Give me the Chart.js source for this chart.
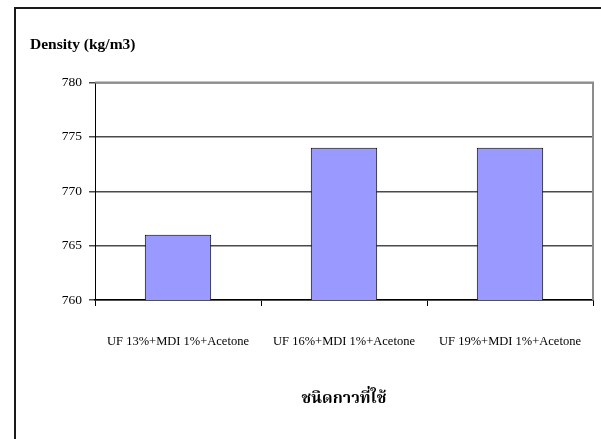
<!doctype html>
<html lang="th">
  <head>
    <meta charset="UTF-8" />
    <title>Density</title>
    <script src="https://cdn.jsdelivr.net/npm/chart.js"></script>
    <style>
      body,
      html {
        margin: 0;
        padding: 0;
        background: #ffffff;
      }
      #wrap {
        width: 601px;
        height: 439px;
      }
    </style>
  </head>
  <body>
    <div id="wrap">
      <canvas id="densityChart" width="601" height="439"></canvas>
    </div>
    <script>
      // Glue types and measured board density
      const categories = [
        "UF 13%+MDI 1%+Acetone",
        "UF 16%+MDI 1%+Acetone",
        "UF 19%+MDI 1%+Acetone",
      ];
      const densityValues = [766, 774, 774];
      const yMin = 760;
      const yMax = 780;
      const yStep = 5;

      const serif = "'Liberation Serif', 'Times New Roman', serif";

      // Outer frame and the grey right edge of the plot area
      const framePlugin = {
        id: "frame",
        beforeDraw(chart) {
          const ctx = chart.ctx;
          ctx.save();
          ctx.strokeStyle = "#1a1a1a";
          ctx.lineWidth = 2;
          ctx.beginPath();
          ctx.moveTo(15, chart.height);
          ctx.lineTo(15, 8);
          ctx.lineTo(chart.width, 8);
          ctx.stroke();
          ctx.restore();
        },
        afterDatasetsDraw(chart) {
          const { ctx, chartArea } = chart;
          ctx.save();
          ctx.strokeStyle = "#8c8c8c";
          ctx.lineWidth = 2;
          ctx.beginPath();
          ctx.moveTo(chartArea.left, chartArea.top);
          ctx.lineTo(chartArea.right, chartArea.top);
          ctx.lineTo(chartArea.right, chartArea.bottom);
          ctx.stroke();
          ctx.restore();
        },
      };

      new Chart(document.getElementById("densityChart"), {
        type: "bar",
        data: {
          labels: categories,
          datasets: [
            {
              label: "Density",
              data: densityValues,
              backgroundColor: "#9999ff",
              borderColor: "#000000",
              borderWidth: 1,
              barPercentage: 0.4,
              categoryPercentage: 1,
            },
          ],
        },
        options: {
          responsive: false,
          animation: false,
          layout: {
            padding: { left: 30, right: 8, top: 0, bottom: 0 },
          },
          plugins: {
            legend: { display: false },
            tooltip: { enabled: false },
            title: {
              display: true,
              text: "Density (kg/m3)",
              align: "start",
              color: "#000000",
              font: { family: serif, size: 15.5, weight: "bold" },
              padding: { top: 36, bottom: 28 },
            },
          },
          scales: {
            x: {
              offset: true,
              grid: {
                display: true,
                offset: true,
                drawOnChartArea: false,
                tickLength: 6,
                color: "#000000",
              },
              border: { color: "#000000", width: 1.5 },
              ticks: {
                color: "#000000",
                font: { family: serif, size: 12.5 },
                padding: 28,
                maxRotation: 0,
                autoSkip: false,
              },
              title: {
                display: true,
                text: "ชนิดกาวที่ใช้",
                color: "#000000",
                font: {
                  family: "'Liberation Serif', 'Noto Serif Thai', 'Noto Sans Thai', serif",
                  size: 16,
                  weight: "bold",
                },
                padding: { top: 0, bottom: 31 },
              },
              afterFit(scale) {
                // keep the plot running to the right edge of the frame
                scale.height = 139;
                scale.paddingLeft = 0;
                scale.paddingRight = 0;
              },
            },
            y: {
              min: yMin,
              max: yMax,
              grid: {
                color: "#4a4a4a",
                lineWidth: 1.5,
                tickLength: 6,
              },
              border: { color: "#000000", width: 1 },
              ticks: {
                stepSize: yStep,
                color: "#000000",
                font: { family: serif, size: 13.5 },
                padding: 7,
              },
              afterFit(scale) {
                scale.width = 65;
              },
            },
          },
        },
        plugins: [framePlugin],
      });
    </script>
  </body>
</html>
